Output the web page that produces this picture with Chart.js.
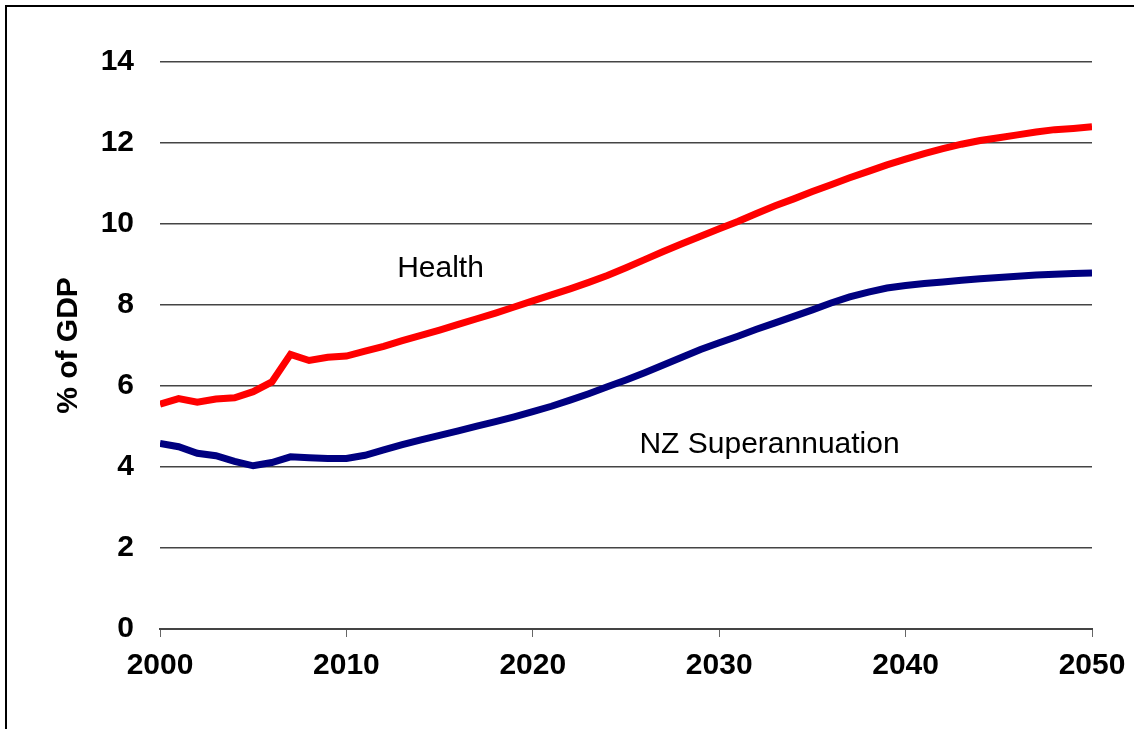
<!DOCTYPE html>
<html>
<head>
<meta charset="utf-8">
<script src="https://cdn.jsdelivr.net/npm/chart.js@4"></script>
<style>
  body { margin: 0; background: #fff; overflow: hidden; }
  #wrap { position: relative; width: 1134px; height: 729px; }
  #frame { position: absolute; left: 5px; top: 5px; width: 1200px; height: 800px; border: 2px solid #000; }
  canvas { position: absolute; left: 0; top: 0; }
</style>
</head>
<body>
<div id="wrap">
  <div id="frame"></div>
  <canvas id="gdpChart" width="1134" height="729"></canvas>
</div>
<script>
var years = [];
for (var y = 2000; y <= 2050; y++) years.push(y);

var health = [
  5.55, 5.69, 5.60, 5.68, 5.71, 5.86, 6.10, 6.78, 6.63, 6.71,
  6.74, 6.86, 6.98, 7.12, 7.25, 7.38, 7.52, 7.66, 7.80, 7.95,
  8.10, 8.25, 8.40, 8.56, 8.73, 8.92, 9.12, 9.32, 9.51, 9.70,
  9.88, 10.06, 10.26, 10.45, 10.62, 10.80, 10.97, 11.14, 11.30, 11.46,
  11.60, 11.74, 11.86, 11.97, 12.06, 12.13, 12.20, 12.27, 12.33, 12.36,
  12.40
];

var superannuation = [
  4.58, 4.50, 4.34, 4.28, 4.14, 4.03, 4.11, 4.25, 4.23, 4.21,
  4.21, 4.29, 4.42, 4.55, 4.67, 4.78, 4.89, 5.01, 5.12, 5.24,
  5.37, 5.50, 5.65, 5.81, 5.98, 6.15, 6.33, 6.52, 6.71, 6.90,
  7.07, 7.23, 7.40, 7.56, 7.72, 7.88, 8.05, 8.20, 8.32, 8.42,
  8.48, 8.53, 8.57, 8.61, 8.65, 8.68, 8.71, 8.74, 8.76, 8.78,
  8.79
];

var seriesNames = ["Health", "NZ Superannuation"];

function toPoints(vals) {
  return vals.map(function (v, i) { return { x: years[i], y: v }; });
}

var fontFamily = '"Liberation Sans", Arial, sans-serif';

// labels written next to the lines, placed in data units
var lineLabels = {
  id: 'lineLabels',
  afterDatasetsDraw: function (chart) {
    var ctx = chart.ctx;
    var xs = chart.scales.x, ys = chart.scales.y;
    var spots = [
      { text: seriesNames[0], x: 2015.05, y: 8.9 },
      { text: seriesNames[1], x: 2032.7, y: 4.55 }
    ];
    ctx.save();
    ctx.fillStyle = '#000';
    ctx.font = '30px ' + fontFamily;
    ctx.textAlign = 'center';
    ctx.textBaseline = 'middle';
    spots.forEach(function (s) {
      ctx.fillText(s.text, xs.getPixelForValue(s.x), ys.getPixelForValue(s.y));
    });
    ctx.restore();
  }
};

var ctx = document.getElementById("gdpChart");

var gdpChart = new Chart(ctx, {
  type: 'line',
  data: {
    datasets: [
      {
        label: seriesNames[0],
        data: toPoints(health),
        borderColor: "#FF0000",
        borderWidth: 7,
        pointRadius: 0,
        tension: 0
      },
      {
        label: seriesNames[1],
        data: toPoints(superannuation),
        borderColor: "#000080",
        borderWidth: 7,
        pointRadius: 0,
        tension: 0
      }
    ]
  },
  options: {
    responsive: false,
    animation: false,
    layout: { padding: { left: 51, right: 42, top: 62, bottom: 34 } },
    plugins: {
      legend: { display: false },
      tooltip: { enabled: false }
    },
    scales: {
      x: {
        type: 'linear',
        min: 2000,
        max: 2050,
        afterFit: function (scale) { scale.paddingRight = 0; scale.paddingLeft = 0; },
        grid: {
          drawOnChartArea: false,
          drawTicks: true,
          tickLength: 8,
          color: '#666'
        },
        border: { display: true, color: '#444', width: 2 },
        ticks: {
          stepSize: 10,
          padding: 11,
          color: '#000',
          font: { family: fontFamily, size: 30, weight: 'bold' },
          callback: function (v) { return String(v); },
          maxRotation: 0
        }
      },
      y: {
        min: 0,
        max: 14,
        afterFit: function (scale) { scale.width = 109; },
        grid: {
          drawTicks: false,
          color: '#444',
          lineWidth: 1.5
        },
        border: { display: false },
        ticks: {
          stepSize: 2,
          padding: 26,
          color: '#000',
          font: { family: fontFamily, size: 30, weight: 'bold' }
        },
        title: {
          display: true,
          text: '% of GDP',
          color: '#000',
          padding: { top: 0, bottom: 18 },
          font: { family: fontFamily, size: 30, weight: 'bold' }
        }
      }
    }
  },
  plugins: [lineLabels]
});
</script>
</body>
</html>
